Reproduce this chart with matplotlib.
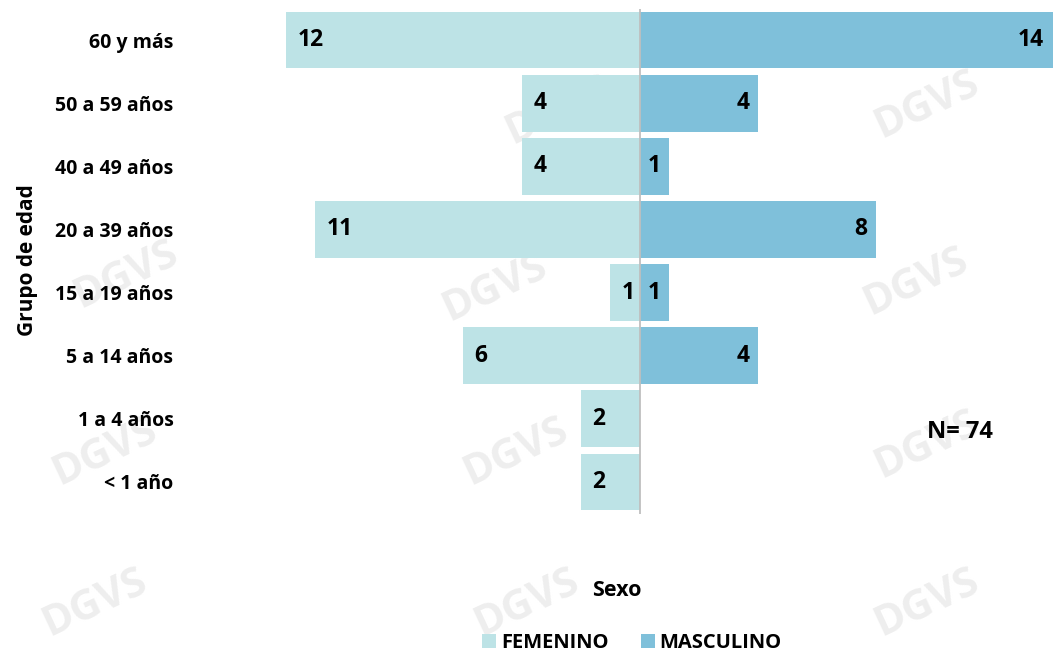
import matplotlib.pyplot as plt

grupos = ["< 1 año", "1 a 4 años", "5 a 14 años", "15 a 19 años",
          "20 a 39 años", "40 a 49 años", "50 a 59 años", "60 y más"]
femenino = [2, 2, 6, 1, 11, 4, 4, 12]
masculino = [0, 0, 4, 1, 8, 1, 4, 14]
total_n = 74

col_fem = "#bde3e6"
col_mas = "#7fc0da"
fuente = ["Open Sans", "DejaVu Sans"]

plt.rcParams["font.family"] = fuente
plt.rcParams["font.weight"] = "bold"

fig = plt.figure(figsize=(10.53, 6.55), dpi=100)

# marcas de agua tenues, detrás de todo
for fx, fy in [(0.53, 0.83), (0.88, 0.84), (0.12, 0.58), (0.47, 0.56),
               (0.87, 0.57), (0.10, 0.31), (0.49, 0.31), (0.88, 0.32), (0.09, 0.08),
               (0.50, 0.08), (0.88, 0.08)]:
    fig.text(fx, fy, "DGVS", fontsize=30, color="#eeeeee", rotation=25,
             ha="center", va="center", zorder=0)

ax = fig.add_axes([0.2716, 0.216, 0.7284, 0.771])
ax.set_zorder(2)
ax.patch.set_alpha(0)
y = list(range(len(grupos)))
ax.barh(y, [-v for v in femenino], height=0.9, color=col_fem, label="FEMENINO")
ax.barh(y, masculino, height=0.9, color=col_mas, label="MASCULINO")
ax.axvline(0, color="#bfbfbf", lw=1.3)

for i, v in enumerate(femenino):
    if v:
        ax.text(-v + 0.38, i, str(v), ha="left", va="center", fontsize=16.5, fontweight="bold")
for i, v in enumerate(masculino):
    if v:
        ax.text(v - 0.3, i, str(v), ha="right", va="center", fontsize=16.5, fontweight="bold")

ax.set_xlim(-12, 14)
ax.set_ylim(-0.5, len(grupos) - 0.5)
ax.set_yticks(y)
ax.set_yticklabels(grupos, fontsize=14, fontweight="bold")
ax.tick_params(axis="y", length=0, pad=81)
ax.set_xticks([])
for s in ax.spines.values():
    s.set_visible(False)

fig.text(0.026, 0.603, "Grupo de edad", rotation=90, ha="center", va="center",
         fontsize=15, fontweight="bold", zorder=3)
fig.text(0.586, 0.098, "Sexo", ha="center", va="center", fontsize=15.5,
         fontweight="bold", zorder=3)
fig.text(0.912, 0.34, f"N= {total_n}", ha="center", va="center", fontsize=17,
         fontweight="bold", zorder=3)

handles, labels = ax.get_legend_handles_labels()
leg = fig.legend(handles, labels, loc="center", bbox_to_anchor=(0.6, 0.018), ncol=2,
                 frameon=False, handlelength=0.7, handleheight=0.7,
                 handletextpad=0.25, columnspacing=1.6, prop={"weight": "bold", "size": 14.5})
leg.set_zorder(3)

fig.savefig("out.png", dpi=100)
